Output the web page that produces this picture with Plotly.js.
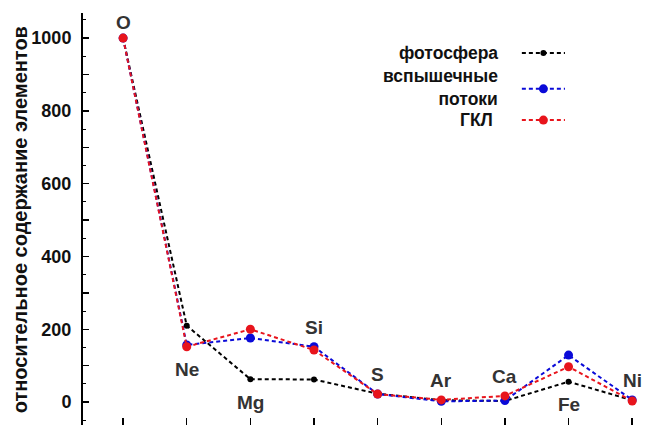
<!DOCTYPE html>
<html>
<head>
<meta charset="utf-8">
<script src="https://cdn.plot.ly/plotly-3.0.1.min.js"></script>
<style>html,body{margin:0;padding:0;background:#fff}#chart{width:665px;height:425px}</style>
</head>
<body>
<div id="chart"></div>
<script>
// ---- data ----
var elements = ['O', 'Ne', 'Mg', 'Si', 'S', 'Ar', 'Ca', 'Fe', 'Ni'];
var photosphere = [1000, 210, 63, 62, 23, 5, 3, 56, 5];
var flares = [1000, 157, 176, 152, 22, 2, 4, 129, 6];
var gcr = [1000, 152, 200, 143, 22, 6, 17, 97, 3];
var seriesNames = ['фотосфера', 'вспышечные<br>потоки', 'ГКЛ'];
var yTickValues = [0, 100, 200, 300, 400, 500, 600, 700, 800, 900, 1000];
var yTickLabels = ['0', '', '200', '', '400', '', '600', '', '800', '', '1000'];
var yTitle = 'относительное содержание элементов';

// ---- styles ----
var colors = ['#000000', '#0a0ad8', '#e8141c'];
var markerSizes = [6, 9, 9];
var labelPlacement = ['above', 'below', 'below', 'above', 'above', 'above', 'above', 'below', 'above'];
var fontFamily = 'Liberation Sans, Arial, sans-serif';

var allSeries = [photosphere, flares, gcr];
var traces = allSeries.map(function (vals, i) {
  return {
    type: 'scatter', mode: 'lines+markers', x: elements, y: vals, name: seriesNames[i].replace('<br>', ' '),
    line: {color: colors[i], width: 2, dash: '4px,3px'},
    marker: {color: colors[i], size: markerSizes[i]},
    hoverinfo: 'x+y+name'
  };
});

var annotations = elements.map(function (el, k) {
  var col = allSeries.map(function (s) { return s[k]; });
  var above = labelPlacement[k] === 'above';
  return {
    x: el, y: above ? Math.max.apply(null, col) : Math.min.apply(null, col),
    xref: 'x', yref: 'y', text: el, showarrow: false,
    yshift: above ? (k === 0 ? 16 : 19) : -23,
    font: {family: fontFamily, size: 19, color: '#333333', weight: 'bold'}
  };
});

// y-axis title
annotations.push({
  xref: 'paper', yref: 'paper', x: -0.111, y: 0.497, xanchor: 'center', yanchor: 'middle',
  textangle: -90, text: yTitle, showarrow: false,
  font: {family: fontFamily, size: 20, color: '#111111', weight: 'bold'}
});

// manual legend (text to the left of sample)
var legendRows = [
  {y: 0.904, ys: 0.903, xr: 0.734},
  {y: 0.820, ys: 0.816, xr: 0.734},
  {y: 0.741, ys: 0.740, xr: 0.724}
];
var shapes = [];
legendRows.forEach(function (row, i) {
  annotations.push({
    xref: 'paper', yref: 'paper', x: row.xr, y: row.y, xanchor: 'right', yanchor: 'middle',
    text: seriesNames[i], showarrow: false, align: 'right', borderpad: 0,
    font: {family: fontFamily, size: 17.5, color: '#111111', weight: 'bold'}
  });
  shapes.push({
    type: 'line', xref: 'paper', yref: 'paper', x0: 0.774, x1: 0.850, y0: row.ys, y1: row.ys,
    line: {color: colors[i], width: 2, dash: '4px,3px'}
  });
  var r = markerSizes[i] / 2;
  shapes.push({
    type: 'circle', xref: 'paper', yref: 'paper', xsizemode: 'pixel', ysizemode: 'pixel',
    xanchor: 0.812, yanchor: row.ys, x0: -r, x1: r, y0: -r, y1: r,
    fillcolor: colors[i], line: {color: colors[i], width: 0}
  });
});

var layout = {
  width: 665, height: 425,
  margin: {l: 83, r: 15, t: 13, b: 0, pad: 0},
  paper_bgcolor: '#ffffff', plot_bgcolor: '#ffffff',
  showlegend: false,
  font: {family: fontFamily, color: '#111111'},
  xaxis: {
    type: 'category', categoryorder: 'array', categoryarray: elements,
    range: [-0.63, 8.28], showline: false, showgrid: false, zeroline: false,
    ticks: 'inside', ticklen: 7, tickwidth: 1.5, tickcolor: '#000',
    showticklabels: false, fixedrange: true
  },
  yaxis: {
    range: [-63, 1069], showline: true, linewidth: 2, linecolor: '#000',
    showgrid: false, zeroline: false,
    tickmode: 'array', tickvals: yTickValues, ticktext: yTickLabels,
    ticks: 'inside', ticklen: 6, tickwidth: 1.5, tickcolor: '#000',
    ticklabelstandoff: 6,
    minor: {ticks: 'inside', ticklen: 3, tickwidth: 1, tickcolor: '#000', dtick: 50, tick0: 0},
    tickfont: {family: fontFamily, size: 18, color: '#111111', weight: 'bold'},
    automargin: false, fixedrange: true
  },
  annotations: annotations,
  shapes: shapes
};

Plotly.newPlot('chart', traces, layout, {displayModeBar: false, staticPlot: true});
</script>
</body>
</html>
